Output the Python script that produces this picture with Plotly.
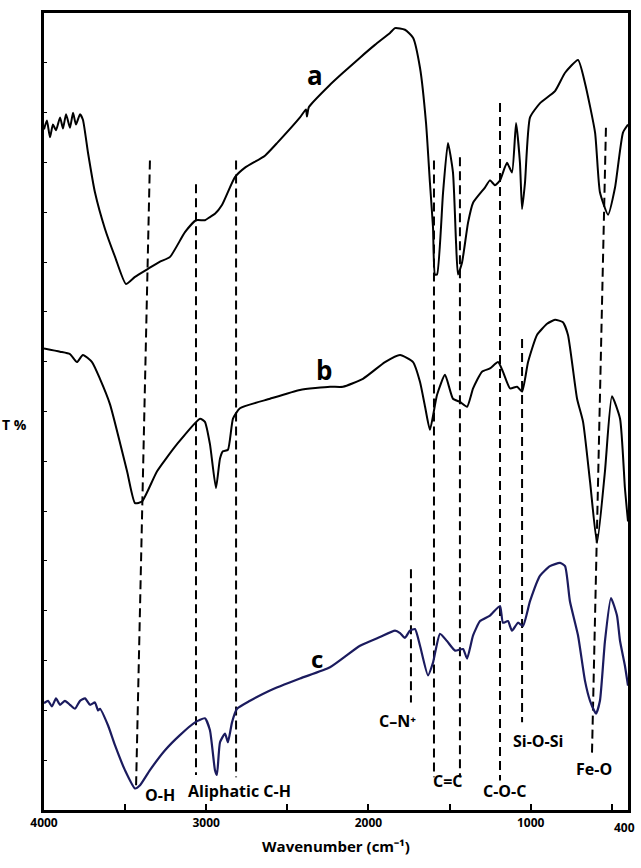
import plotly.graph_objects as go

# spectrum a
wn_a = [4000, 3982, 3963, 3945, 3926, 3901, 3883, 3864, 3840, 3821, 3803, 3778, 3760, 3729, 3686,
        3624, 3562, 3495, 3439, 3359, 3285, 3223, 3131, 3063, 3008, 2977, 2946, 2903, 2823, 2761,
        2638, 2558, 2422, 2385, 2379, 2367, 2237, 2157, 2052, 1960, 1867, 1836, 1775, 1725, 1682,
        1645, 1621, 1602, 1590, 1577, 1540, 1510, 1479, 1460, 1448, 1423, 1386, 1355, 1282, 1251,
        1220, 1189, 1146, 1115, 1090, 1066, 1053, 1035, 1004, 942, 850, 788, 708, 665, 603, 573,
        523, 480, 431, 400]
t_a = [85.4, 86.5, 84.4, 86.0, 85.3, 86.9, 85.5, 87.3, 85.6, 87.5, 86.0, 87.3, 86.6, 82.5, 77.5,
       72.9, 69.4, 66.0, 66.9, 67.9, 68.8, 69.4, 72.5, 74.0, 74.0, 74.4, 74.8, 75.9, 79.4, 80.6,
       82.1, 83.8, 86.9, 87.9, 87.0, 88.2, 91.0, 92.5, 94.4, 96.0, 97.5, 98.1, 97.9, 96.9, 93.1,
       86.2, 78.7, 73.1, 67.2, 67.2, 77.5, 83.7, 80.0, 71.2, 67.2, 68.7, 73.7, 76.2, 78.1, 79.0,
       78.4, 79.0, 81.2, 80.0, 86.2, 81.2, 75.4, 78.7, 86.9, 88.7, 90.2, 92.5, 94.1, 91.2, 85.0,
       77.5, 74.7, 78.1, 85.0, 86.0]

# spectrum b
wn_b = [4000, 3901, 3840, 3797, 3760, 3704, 3655, 3593, 3488, 3439, 3396, 3303, 3180, 3038, 3008,
        2977, 2940, 2915, 2897, 2866, 2835, 2792, 2607, 2422, 2237, 2157, 2034, 1898, 1805, 1725,
        1682, 1651, 1621, 1577, 1528, 1479, 1436, 1392, 1355, 1300, 1251, 1201, 1171, 1127, 1084,
        1053, 1016, 961, 899, 850, 801, 770, 714, 677, 634, 591, 542, 499, 449, 419, 400]
t_b = [57.9, 57.5, 57.2, 56.2, 57.1, 56.2, 54.1, 50.9, 42.5, 38.5, 38.7, 42.5, 45.9, 49.1, 48.7,
       45.9, 40.4, 44.1, 45.0, 45.2, 49.1, 50.4, 51.6, 52.7, 53.1, 53.1, 54.1, 56.2, 57.1, 56.2,
       53.7, 50.6, 47.7, 52.1, 54.6, 51.6, 51.2, 50.6, 52.9, 55.0, 55.4, 56.2, 55.0, 52.9, 53.1,
       52.5, 56.2, 59.6, 61.0, 61.5, 61.2, 59.6, 51.6, 48.7, 41.2, 33.5, 42.5, 51.9, 49.1, 40.4,
       36.2]

# spectrum c
wn_c = [4000, 3975, 3951, 3926, 3901, 3871, 3840, 3809, 3778, 3747, 3716, 3686, 3667, 3655, 3605,
        3562, 3501, 3439, 3408, 3347, 3254, 3162, 3069, 3008, 2977, 2946, 2934, 2915, 2884, 2866,
        2841, 2810, 2730, 2607, 2422, 2237, 2052, 1929, 1836, 1805, 1775, 1744, 1713, 1682, 1633,
        1602, 1559, 1516, 1466, 1417, 1392, 1355, 1312, 1251, 1189, 1171, 1140, 1115, 1078, 1047,
        1004, 942, 881, 819, 788, 758, 708, 665, 634, 597, 573, 542, 505, 468, 449, 419, 400]
t_c = [13.4, 13.7, 13.0, 14.0, 13.2, 13.7, 13.2, 12.7, 13.7, 14.0, 13.2, 13.5, 12.5, 12.7, 10.6,
       8.1, 5.0, 2.7, 3.1, 5.0, 7.5, 9.4, 11.0, 11.5, 10.0, 5.0, 4.4, 8.5, 9.6, 8.5,
       11.0, 12.7, 13.7, 15.0, 16.5, 17.9, 20.6, 21.7, 22.5, 22.2, 21.6, 22.5, 22.7, 20.6, 16.9,
       18.5, 22.1, 21.2, 20.0, 20.2, 19.0, 21.9, 23.7, 24.4, 25.6, 23.5, 23.7, 22.5, 23.5, 23.1,
       26.2, 29.4, 30.6, 31.0, 30.6, 26.2, 21.9, 16.2, 13.7, 12.1, 13.7, 21.2, 26.6, 24.4, 21.2,
       18.1, 15.6]

# band assignment guide lines: top and bottom ends
guide_top_wn = [3347, 3063, 2816, 1738, 1596, 1436, 1189, 1053, 536]
guide_top_t = [81.5, 78.5, 81.5, 30.2, 81.5, 81.9, 88.7, 59.1, 85.6]
guide_bot_wn = [3433, 3063, 2816, 1738, 1596, 1436, 1189, 1053, 622]
guide_bot_t = [2.5, 4.4, 4.1, 13.5, 4.1, 4.1, 3.7, 11.0, 7.1]

tick_vals = [4000, 3500, 3000, 2500, 2000, 1500, 1000, 500]
tick_text = ["4000", "", "3000", "", "2000", "", "1000", ""]

FONT = "Open Sans"

fig = go.Figure()
for i in range(len(guide_top_wn)):
    fig.add_trace(go.Scatter(x=[guide_top_wn[i], guide_bot_wn[i]], y=[guide_top_t[i], guide_bot_t[i]],
                             mode="lines", line=dict(color="black", width=2, dash="9px,5px"),
                             showlegend=False, hoverinfo="skip"))
fig.add_trace(go.Scatter(x=wn_a, y=t_a, mode="lines", showlegend=False,
                         line=dict(color="black", width=2, shape="spline", smoothing=0.5)))
fig.add_trace(go.Scatter(x=wn_b, y=t_b, mode="lines", showlegend=False,
                         line=dict(color="black", width=2, shape="spline", smoothing=0.5)))
fig.add_trace(go.Scatter(x=wn_c, y=t_c, mode="lines", showlegend=False,
                         line=dict(color="#1b1b5e", width=2.2, shape="spline", smoothing=0.5)))

labels = [("a", 2330, 92.2, 26, "bold"), ("b", 2274, 55.2, 26, "bold"), ("c", 2317, 19.0, 24, "bold"),
          ("O-H", 3285, 1.9, 16, "bold"), ("Aliphatic C-H", 2792, 2.4, 16, "bold"),
          ("C\u2013N\u207a", 1818, 11.2, 16, "bold"), ("C=C", 1510, 3.6, 16, "bold"),
          ("C-O-C", 1164, 2.4, 16, "bold"), ("Si-O-Si", 955, 8.7, 16, "bold"), ("Fe-O", 610, 5.2, 16, "bold")]
for txt, x, y, size, w in labels:
    fig.add_annotation(x=x, y=y, text=txt, showarrow=False, xanchor="center", yanchor="middle",
                       font=dict(family=FONT, size=size, color="black", weight=w))

# last tick label sits at the right edge of the axis
fig.add_annotation(x=400, y=0, yref="paper", text="400", showarrow=False, xanchor="right", yanchor="top",
                   xshift=9, yshift=-7, font=dict(family=FONT, size=12, color="black", weight="bold"))
fig.add_annotation(x=0, y=0.484, xref="paper", yref="paper", text="T %", showarrow=False,
                   xanchor="right", xshift=-15,
                   font=dict(family=FONT, size=14, color="black", weight="bold"))

fig.update_xaxes(range=[4000, 400], tickvals=tick_vals, ticktext=tick_text, ticks="inside", ticklen=6,
                 tickwidth=2, tickcolor="black", showline=True, linewidth=3, linecolor="black", mirror=True,
                 showgrid=False, zeroline=False,
                 tickfont=dict(family=FONT, size=12, color="black", weight="bold"),
                 title=dict(text="Wavenumber (cm\u207b\u00b9)", standoff=12,
                            font=dict(family=FONT, size=15, color="black", weight="bold")))
fig.update_yaxes(range=[0, 100], dtick=6.25, ticks="inside", ticklen=3, tickwidth=1, tickcolor="black",
                 showticklabels=False, showline=True, linewidth=3, linecolor="black", mirror=True,
                 showgrid=False, zeroline=False)
fig.update_layout(width=641, height=868, margin=dict(l=44, r=13, t=10, b=58),
                  plot_bgcolor="white", paper_bgcolor="white")
fig.write_html("out.html", config={"displayModeBar": False},
               post_script="document.body.style.margin='0';")
